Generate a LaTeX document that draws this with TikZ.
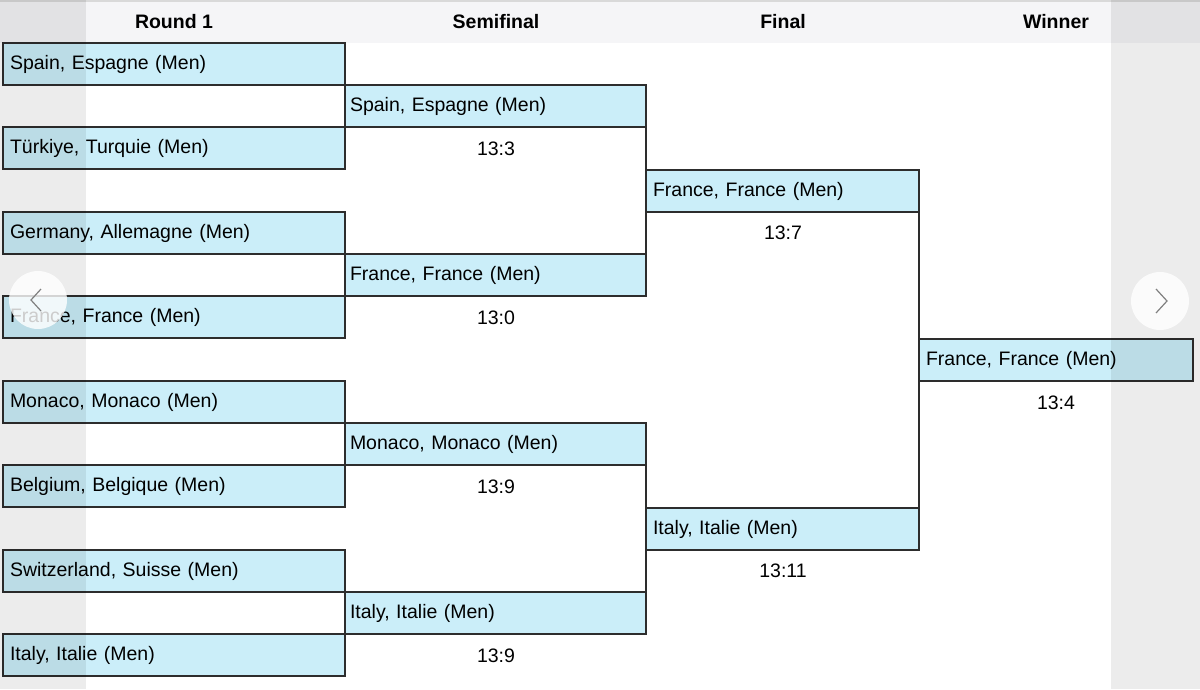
\documentclass[tikz,border=0pt]{standalone}
\usepackage{fontspec}
\setmainfont{Liberation Sans}
\definecolor{boxblue}{RGB}{203,238,249}
\definecolor{hdrgray}{RGB}{245,245,247}
\definecolor{edge}{RGB}{45,45,45}
\begin{document}
\begin{tikzpicture}[x=1pt,y=-1pt,
  font=\fontsize{19.5}{22}\selectfont,
  team/.style={draw=edge, fill=boxblue, line width=1.3pt, minimum height=42pt,
    anchor=north west, inner xsep=7pt, inner ysep=0pt, outer sep=0pt, align=left, text width=#1},
  hdr/.style={font=\fontsize{19.5}{22}\selectfont\bfseries},
  score/.style={},
  link/.style={draw=edge, line width=1.3pt},
  strip/.style={fill=black, opacity=0.075},
  navbtn/.style={circle, fill=white, opacity=0.8, minimum size=58pt, inner sep=0pt},
  chev/.style={draw=gray, line width=1.2pt}
]
\useasboundingbox (0,0) rectangle (1200,689);
\fill[white] (0,0) rectangle (1200,689);
\fill[hdrgray] (0,0) rectangle (1200,43);
\draw[black!15, line width=1.5pt] (0,0.75) -- (1200,0.75);

% headers
\node[hdr] (h1) at (174,22) {Round 1};
\node[hdr] (h2) at (496,22) {Semifinal};
\node[hdr] (h3) at (783,22) {Final};
\node[hdr] (h4) at (1056,22) {Winner};

% round 1
\node[team=328pt] (a1) at (3,43)  {Spain, Espagne (Men)};
\node[team=328pt] (a2) at (3,127) {Türkiye, Turquie (Men)};
\node[team=328pt] (a3) at (3,212) {Germany, Allemagne (Men)};
\node[team=328pt] (a4) at (3,296) {France, France (Men)};
\node[team=328pt] (a5) at (3,381) {Monaco, Monaco (Men)};
\node[team=328pt] (a6) at (3,465) {Belgium, Belgique (Men)};
\node[team=328pt] (a7) at (3,550) {Switzerland, Suisse (Men)};
\node[team=328pt] (a8) at (3,634) {Italy, Italie (Men)};

% semifinal
\node[team=291pt, inner xsep=5pt] (b1) at (345,85)  {Spain, Espagne (Men)};
\node[team=291pt, inner xsep=5pt] (b2) at (345,254) {France, France (Men)};
\node[team=291pt, inner xsep=5pt] (b3) at (345,423) {Monaco, Monaco (Men)};
\node[team=291pt, inner xsep=5pt] (b4) at (345,592) {Italy, Italie (Men)};
\node[score] (sb1) at (496,149) {13:3};
\node[score] (sb2) at (496,318) {13:0};
\node[score] (sb3) at (496,487) {13:9};
\node[score] (sb4) at (496,656) {13:9};

% final
\node[team=259pt] (c1) at (646,170) {France, France (Men)};
\node[team=259pt] (c2) at (646,508) {Italy, Italie (Men)};
\node[score] (sc1) at (783,233) {13:7};
\node[score] (sc2) at (783,571) {13:11};

% winner
\node[team=260pt] (d1) at (919,339) {France, France (Men)};
\node[score] (sd1) at (1056,403) {13:4};

% connectors
\draw[link] (b1.south east) -- (c1.north west);
\draw[link] (c1.south west) -- (b2.north east);
\draw[link] (b3.south east) -- (c2.north west);
\draw[link] (c2.south west) -- (b4.north east);
\draw[link] (c1.south east) -- (d1.north west);
\draw[link] (d1.south west) -- (c2.north east);

% side overlays
\fill[strip] (0,0) rectangle (86,689);
\fill[strip] (1111,0) rectangle (1200,689);

% carousel buttons
\node[navbtn] (prev) at (38,300) {};
\node[navbtn] (next) at (1160,301) {};
\draw[chev] (41,289) -- (31,300) -- (41,311);
\draw[chev] (1156,289) -- (1167,301) -- (1156,313);
\end{tikzpicture}
\end{document}
